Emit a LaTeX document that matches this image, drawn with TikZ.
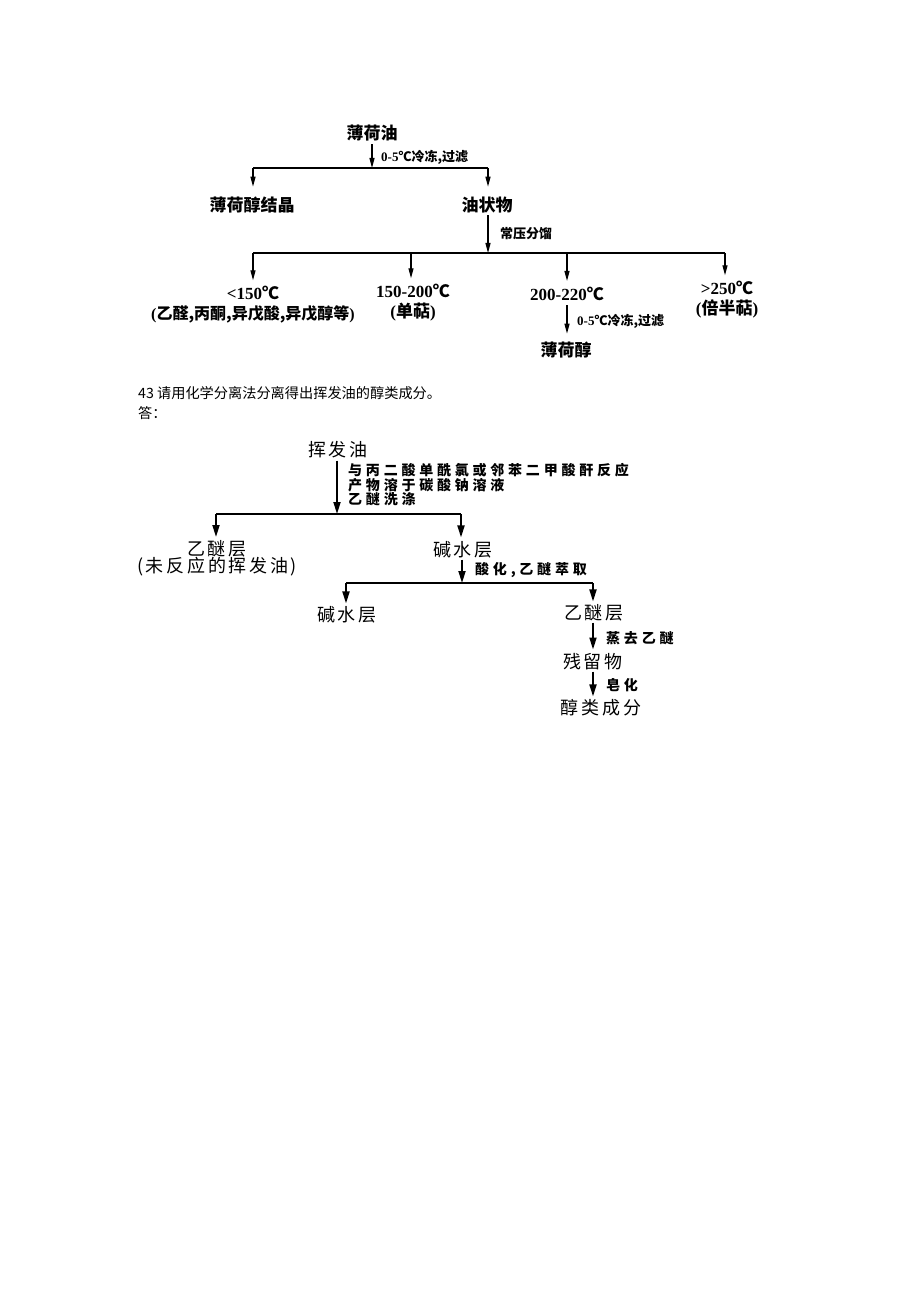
\documentclass[tikz,border=0pt]{standalone}
\usepackage{fontspec}
\setmainfont{Liberation Serif}
\newfontfamily\cjk{Noto Sans CJK SC}
\newfontfamily\cjkw{Noto Sans CJK SC}[LetterSpace=15]
\newfontfamily\cjkl{Noto Sans CJK SC}[LetterSpace=27]
\newcommand\zh[1]{{\cjk #1}}
\usetikzlibrary{arrows.meta}
\tikzset{
  arrA/.style={draw, line width=1.2bp, -{Triangle[length=10bp,width=5bp]}},
  lnA/.style={draw, line width=1.2bp},
  arrB/.style={draw, line width=1.8bp, -{Triangle[length=12bp,width=7bp]}},
  lnB/.style={draw, line width=1.5bp},
  tA/.style={inner sep=0pt, align=center, font=\fontsize{17bp}{20bp}\selectfont\bfseries},
  lA/.style={inner sep=0pt, anchor=west, font=\fontsize{13bp}{14bp}\selectfont\bfseries},
  tB/.style={inner sep=0pt, align=center, font=\fontsize{18bp}{17bp}\selectfont\cjkw},
  lB/.style={inner sep=0pt, anchor=west, align=left, font=\fontsize{14bp}{13.5bp}\selectfont\cjkl\bfseries},
  qT/.style={inner sep=0pt, anchor=west, font=\fontsize{14.2bp}{16bp}\selectfont\cjk},
}
\begin{document}
\begin{tikzpicture}[x=1bp,y=-1bp]
\fill[white] (0,0) rectangle (920,1303);
\useasboundingbox (0,0) rectangle (920,1303);

% ---------- diagram 1 ----------
\node[tA] (oil) at (372,133) {\zh{薄荷油}};
\coordinate (j1) at (372,168);
\coordinate (j1l) at (253,168);
\coordinate (j1r) at (488,168);
\node[lA] (lab1) at (381,157) {0-5\zh{℃冷冻,过滤}};
\node[tA] (cryst) at (252,205) {\zh{薄荷醇结晶}};
\node[tA] (oily) at (487,205) {\zh{油状物}};
\draw[arrA, shorten <=3bp] (oil) -- (j1);
\draw[lnA] (j1l) -- (j1r);
\draw[arrA, shorten >=10bp] (j1l) -- (j1l |- cryst.north);
\draw[arrA, shorten >=10bp] (j1r) -- (j1r |- oily.north);

\coordinate (j2) at (488,253);
\coordinate (j2a) at (253,253);
\coordinate (j2b) at (411,253);
\coordinate (j2c) at (567,253);
\coordinate (j2d) at (725,253);
\node[lA] (lab2) at (500,234) {\zh{常压分馏}};
\draw[arrA, shorten <=2bp] (oily.south -| j2) -- (j2);
\draw[lnA] (j2a) -- (j2d);
\node[tA] (f1) at (253,305) {<150\zh{℃}\\{\fontsize{16bp}{20bp}\selectfont(\zh{乙醛,丙酮,异戊酸,异戊醇等})}};
\node[tA] (f2) at (413,303) {150-200\zh{℃}\\(\zh{单萜})};
\node[tA] (f3) at (567,294) {200-220\zh{℃}};
\node[tA] (f4) at (727,300) {>250\zh{℃}\\(\zh{倍半萜})};
\draw[arrA, shorten >=6bp] (j2a) -- (j2a |- f1.north);
\draw[arrA, shorten >=6bp] (j2b) -- (j2b |- f2.north);
\draw[arrA, shorten >=6bp] (j2c) -- (j2c |- f3.north);
\draw[arrA, shorten >=6bp] (j2d) -- (j2d |- f4.north);
\node[tA] (menth) at (566,350) {\zh{薄荷醇}};
\node[lA] (lab3) at (577,321) {0-5\zh{℃冷冻,过滤}};
\draw[arrA, shorten <=4bp, shorten >=8bp] (f3.south -| j2c) -- (menth.north -| j2c);

% ---------- question ----------
\node[qT] (q) at (138,393) {43 请用化学分离法分离得出挥发油的醇类成分。};
\node[qT] (ans) at (138,413) {答：};

% ---------- diagram 2 ----------
\node[tB] (vol) at (338,450) {挥发油};
\coordinate (j3) at (337,514);
\coordinate (j3l) at (216,514);
\coordinate (j3r) at (461,514);
\node[lB] (lab4) at (348,485) {与丙二酸单酰氯或邻苯二甲酸酐反应\\产物溶于碳酸钠溶液\\乙醚洗涤};
\draw[arrB, shorten <=2bp] (vol.south -| j3) -- (j3);
\draw[lnB] (j3l) -- (j3r);
\node[tB] (eth1) at (217,558) {乙醚层\\(未反应的挥发油)};
\node[tB] (alk1) at (463,550) {碱水层};
\draw[arrB, shorten >=3bp] (j3l) -- (j3l |- eth1.north);
\draw[arrB, shorten >=4bp] (j3r) -- (j3r |- alk1.north);

\coordinate (j4) at (462,583);
\coordinate (j4l) at (346,583);
\coordinate (j4r) at (593,583);
\node[lB] (lab5) at (475,570) {酸化,乙醚萃取};
\draw[arrB, shorten <=1bp] (alk1.south -| j4) -- (j4);
\draw[lnB] (j4l) -- (j4r);
\node[tB] (alk2) at (347,615) {碱水层};
\node[tB] (eth2) at (594,613) {乙醚层};
\draw[arrB, shorten >=3bp] (j4l) -- (j4l |- alk2.north);
\draw[arrB, shorten >=3bp] (j4r) -- (j4r |- eth2.north);

\node[tB] (res) at (593,662) {残留物};
\node[lB] (lab6) at (606,638) {蒸去乙醚};
\draw[arrB, shorten <=1bp, shorten >=4bp] (eth2.south -| j4r) -- (res.north -| j4r);

\node[tB] (alc) at (601,708) {醇类成分};
\node[lB] (lab7) at (606,685) {皂化};
\draw[arrB, shorten <=1bp, shorten >=3bp] (res.south -| j4r) -- (alc.north -| j4r);
\end{tikzpicture}
\end{document}
